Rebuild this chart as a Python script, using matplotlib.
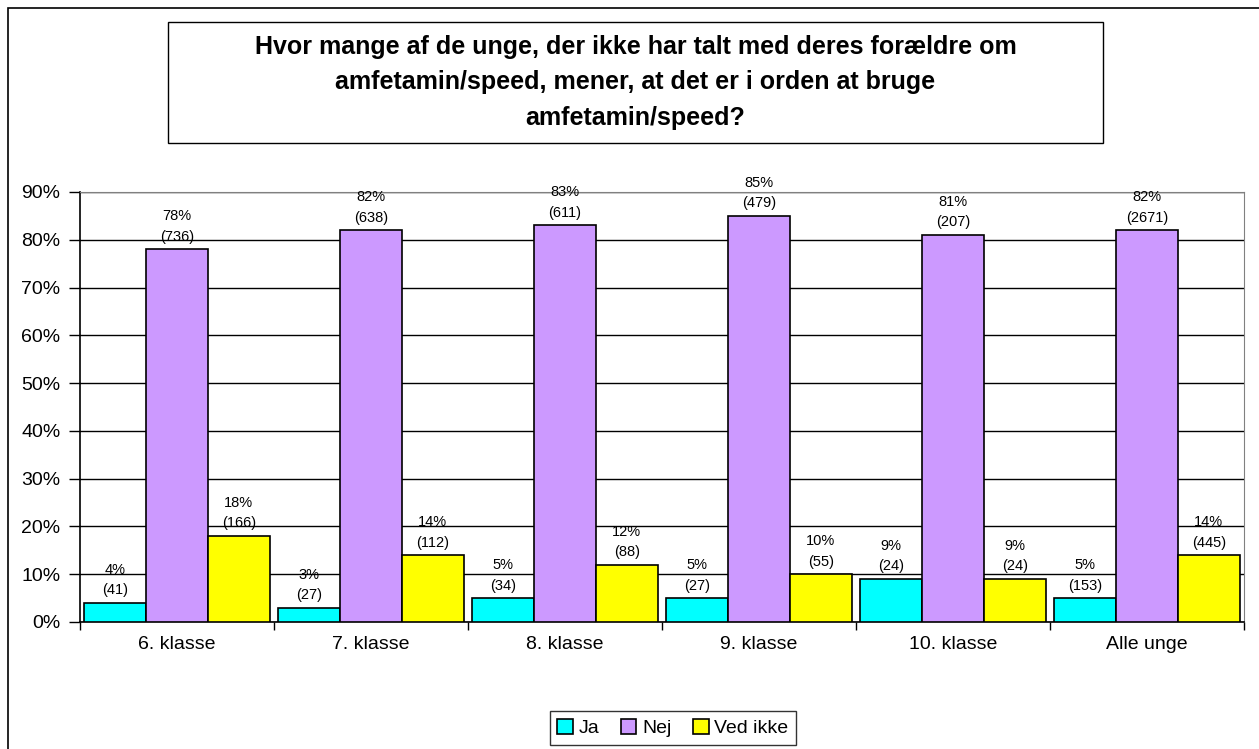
import numpy as np
import matplotlib.pyplot as plt
from matplotlib.patches import Rectangle

plt.rcParams['font.family'] = ['Liberation Sans', 'DejaVu Sans']

categories = ["6. klasse", "7. klasse", "8. klasse", "9. klasse", "10. klasse", "Alle unge"]
series_names = ["Ja", "Nej", "Ved ikke"]
ja_pct = [4, 3, 5, 5, 9, 5]
nej_pct = [78, 82, 83, 85, 81, 82]
ved_pct = [18, 14, 12, 10, 9, 14]
ja_n = [41, 27, 34, 27, 24, 153]
nej_n = [736, 638, 611, 479, 207, 2671]
ved_n = [166, 112, 88, 55, 24, 445]

colors = ["#00FFFF", "#CC99FF", "#FFFF00"]

W, H = 1259, 749
fig = plt.figure(figsize=(W / 100, H / 100), dpi=100)

# outer chart frame (runs off the right and bottom edges)
fig.patches.append(Rectangle((8 / W, -0.05), 1.2, 1 - 8 / H + 0.05, transform=fig.transFigure,
                             fill=False, edgecolor="black", linewidth=1.2))

# title box
bx0, bx1, by0, by1 = 168, 1103, 22, 143
fig.patches.append(Rectangle((bx0 / W, 1 - by1 / H), (bx1 - bx0) / W, (by1 - by0) / H,
                             transform=fig.transFigure, facecolor="white",
                             edgecolor="black", linewidth=1.0))
fig.text((bx0 + bx1) / 2 / W, 1 - (by0 + by1) / 2 / H,
         "Hvor mange af de unge, der ikke har talt med deres forældre om\n"
         "amfetamin/speed, mener, at det er i orden at bruge\n"
         "amfetamin/speed?",
         ha="center", va="center", fontsize=18, fontweight="bold", linespacing=1.6)

left, right, top, bottom = 80, 1244, 192, 622
ax = fig.add_axes([left / W, 1 - bottom / H, (right - left) / W, (bottom - top) / H])

x = np.arange(len(categories))
w = 0.318
for i, (vals, counts) in enumerate(zip([ja_pct, nej_pct, ved_pct], [ja_n, nej_n, ved_n])):
    pos = x + (i - 1) * w
    ax.bar(pos, vals, width=w, color=colors[i], edgecolor="black", linewidth=1.2,
           label=series_names[i], zorder=3)
    for xp, v, n in zip(pos, vals, counts):
        ax.annotate(f"{v}%\n({n})", (xp, v), xytext=(0, 4), textcoords="offset points",
                    ha="center", va="bottom", fontsize=10.5, linespacing=1.6,
                    annotation_clip=False)

ax.set_xlim(-0.5, len(categories) - 0.5)
ax.set_ylim(0, 90)
ax.set_yticks(np.arange(0, 91, 10))
ax.set_yticklabels([f"{t}%" for t in range(0, 91, 10)], fontsize=14)
ax.yaxis.grid(True, color="black", linewidth=1.0, zorder=0)
ax.set_axisbelow(True)

ax.set_xticks(x)
ax.set_xticklabels(categories, fontsize=14)
ax.set_xticks(np.arange(-0.5, len(categories)), minor=True)
ax.tick_params(axis="x", which="major", length=0, pad=10)
ax.tick_params(axis="x", which="minor", length=6, width=1, direction="out")
ax.tick_params(axis="y", length=8, width=1, direction="out", pad=6)

for s in ["top", "right"]:
    ax.spines[s].set_color("#808080")
for s in ["left", "bottom"]:
    ax.spines[s].set_color("black")
    ax.spines[s].set_linewidth(1.2)

leg = fig.legend(loc="center", bbox_to_anchor=((539 + 807) / 2 / W, 1 - 728 / H), ncol=3,
                 fontsize=14, frameon=True, fancybox=False, handlelength=0.8,
                 handleheight=0.8, handletextpad=0.3, columnspacing=1.1,
                 borderpad=0.4)
leg.get_frame().set_edgecolor("black")
leg.get_frame().set_linewidth(1.0)

fig.savefig("out.png", dpi=100)
